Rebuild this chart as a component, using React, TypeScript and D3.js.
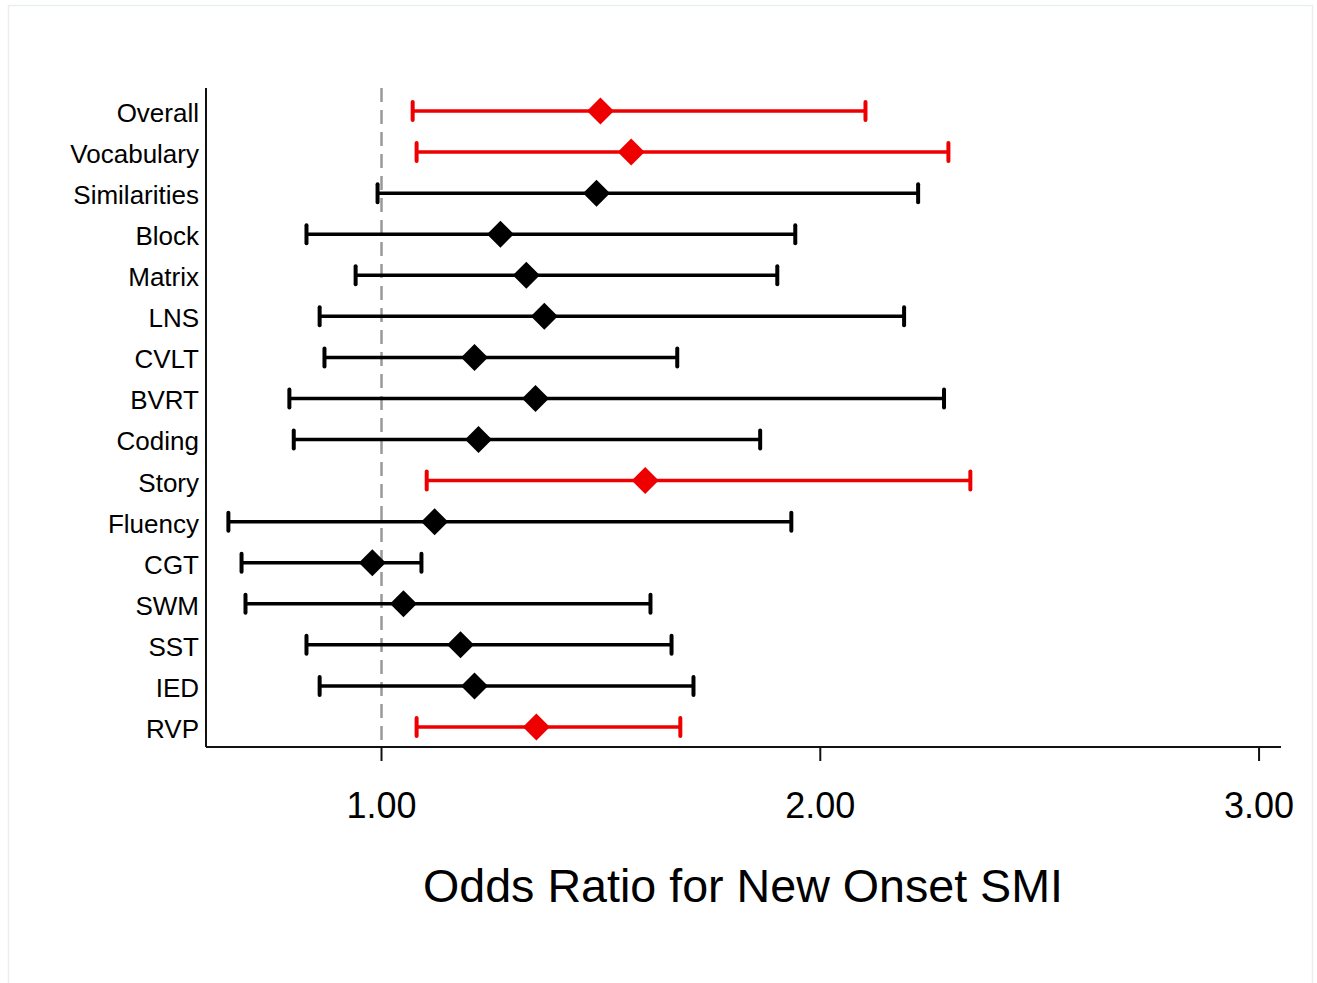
import React from 'react';
import * as d3 from 'd3';

// measures, top to bottom
const measures = [
  'Overall', 'Vocabulary', 'Similarities', 'Block', 'Matrix', 'LNS', 'CVLT', 'BVRT',
  'Coding', 'Story', 'Fluency', 'CGT', 'SWM', 'SST', 'IED', 'RVP',
];
const oddsRatio = [1.499, 1.569, 1.49, 1.271, 1.33, 1.371, 1.212, 1.351, 1.221, 1.601, 1.121, 0.979, 1.05, 1.18, 1.212, 1.353];
const ciLower = [1.071, 1.08, 0.991, 0.829, 0.941, 0.859, 0.87, 0.79, 0.8, 1.103, 0.651, 0.681, 0.69, 0.829, 0.859, 1.08];
const ciUpper = [2.103, 2.292, 2.223, 1.943, 1.902, 2.191, 1.674, 2.282, 1.863, 2.342, 1.934, 1.091, 1.613, 1.661, 1.711, 1.681];
const significant = [true, true, false, false, false, false, false, false, false, true, false, false, false, false, false, true];
const xTicks = [1, 2, 3];

const W = 1317;
const H = 983;
const font = '"Liberation Sans", Arial, Helvetica, sans-serif';

export default function App() {
  const x = d3.scaleLinear().domain([0.6, 3.05]).range([206, 1281]);
  const y = d3.scalePoint<string>().domain(measures).range([111, 727]);
  const axisY = 747;
  const capH = 9;
  const diamond = (cx: number, cy: number, r = 13.5) =>
    `M${cx},${cy - r}L${cx + r},${cy}L${cx},${cy + r}L${cx - r},${cy}Z`;

  return (
    <div>
      <style>{'body{margin:0}'}</style>
      <svg width={W} height={H} style={{ display: 'block' }}>
        <rect x={0} y={0} width={W} height={H} fill="#fff" />
        <rect x={8.5} y={5.5} width={1304} height={990} fill="none" stroke="#e9eeee" strokeWidth={1.5} />

        {/* reference line at OR = 1 */}
        <line x1={x(1)} x2={x(1)} y1={88} y2={axisY} stroke="#999" strokeWidth={2.5} strokeDasharray="14,8" />

        {/* axes */}
        <line x1={206} x2={206} y1={88} y2={axisY} stroke="#111" strokeWidth={2} />
        <line x1={206} x2={1281} y1={axisY} y2={axisY} stroke="#111" strokeWidth={2} />
        {xTicks.map((t) => (
          <g key={t}>
            <line x1={x(t)} x2={x(t)} y1={axisY} y2={axisY + 14} stroke="#111" strokeWidth={2} />
            <text x={x(t)} y={818} textAnchor="middle" fontFamily={font} fontSize={36} fill="#000">
              {t.toFixed(2)}
            </text>
          </g>
        ))}

        {measures.map((m, i) => {
          const cy = y(m) as number;
          const col = significant[i] ? '#ee0000' : '#000';
          return (
            <g key={m}>
              <text x={199} y={cy} dy="0.42em" textAnchor="end" fontFamily={font} fontSize={26} fill="#000">
                {m}
              </text>
              <line x1={x(ciLower[i])} x2={x(ciUpper[i])} y1={cy} y2={cy} stroke={col} strokeWidth={3.5} />
              <line x1={x(ciLower[i])} x2={x(ciLower[i])} y1={cy - capH} y2={cy + capH} stroke={col} strokeWidth={4} strokeLinecap="round" />
              <line x1={x(ciUpper[i])} x2={x(ciUpper[i])} y1={cy - capH} y2={cy + capH} stroke={col} strokeWidth={4} strokeLinecap="round" />
              <path d={diamond(x(oddsRatio[i]), cy)} fill={col} />
            </g>
          );
        })}

        <text x={743} y={902} textAnchor="middle" fontFamily={font} fontSize={46} fill="#000" textLength={640} lengthAdjust="spacingAndGlyphs">
          Odds Ratio for New Onset SMI
        </text>
      </svg>
    </div>
  );
}
